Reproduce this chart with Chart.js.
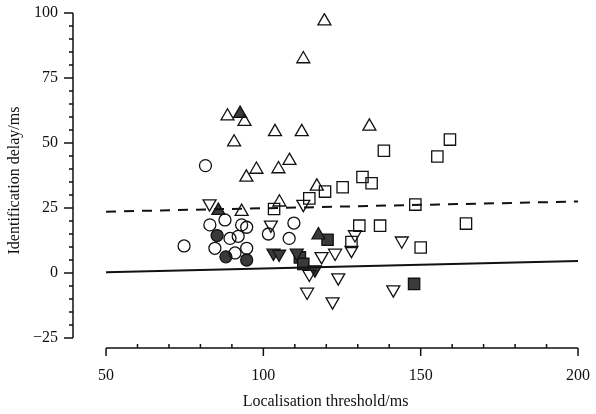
<!DOCTYPE html>
<html>
<head>
<meta charset="utf-8">
<script src="https://cdn.jsdelivr.net/npm/chart.js@4/dist/chart.umd.min.js"></script>
<style>
  html, body { margin: 0; padding: 0; background: #fff; }
  #wrap { width: 596px; height: 414px; }
</style>
</head>
<body>
<div id="wrap"><canvas id="chart" width="596" height="414"></canvas></div>
<script>
// tick labels
const xTicks = [50, 100, 150, 200];
const yTicks = [-25, 0, 25, 50, 75, 100];

// open circles
const openCircleX = [81.6, 74.8, 83.0, 87.8, 93.1, 94.7, 89.4, 92.0, 84.6, 91.0, 94.7, 101.6, 109.7, 108.2];
const openCircleY = [41.3, 10.4, 18.5, 20.4, 18.5, 17.6, 13.3, 14.1, 9.5, 7.7, 9.5, 15.0, 19.2, 13.3];
// filled circles
const filledCircleX = [85.3, 88.1, 94.7];
const filledCircleY = [14.4, 6.2, 5.0];

// open upward triangles
const openUpX = [88.6, 94.0, 90.7, 119.4, 112.7, 103.7, 112.2, 133.7, 97.8, 104.8, 108.3, 94.6, 117.0, 105.1, 93.1];
const openUpY = [60.3, 58.2, 50.3, 96.9, 82.3, 54.3, 54.3, 56.4, 39.8, 40.0, 43.2, 36.8, 33.3, 27.2, 23.6];
// filled upward triangles
const filledUpX = [92.6, 85.7, 117.5];
const filledUpY = [61.3, 24.0, 14.6];

// open downward triangles
const openDownX = [82.9, 102.4, 112.7, 129.1, 128.0, 144.0, 122.8, 118.5, 114.6, 123.8, 113.9, 122.0, 141.3];
const openDownY = [26.7, 18.5, 26.5, 14.8, 8.8, 12.4, 7.7, 6.4, -0.4, -1.8, -7.3, -11.0, -6.4];
// filled downward triangles
const filledDownX = [103.2, 105.0, 110.6, 116.4];
const filledDownY = [7.7, 7.3, 7.7, 1.3];

// open squares
const openSquareX = [138.3, 159.3, 155.3, 131.5, 134.4, 125.2, 119.6, 114.6, 103.4, 148.3, 130.5, 137.1, 164.4, 128.0, 150.0];
const openSquareY = [47.0, 51.3, 44.8, 36.9, 34.5, 33.0, 31.3, 28.7, 24.6, 26.3, 18.2, 18.2, 19.0, 11.9, 9.8];
// filled squares
const filledSquareX = [120.4, 111.6, 112.7, 147.9];
const filledSquareY = [12.8, 6.0, 3.5, -4.2];

// fitted lines
const fitX = [50, 200];
const solidFitY = [0.3, 4.6];
const dashedFitY = [23.6, 27.5];

const ink = '#111';
const fill = '#3a3a3a';

function pts(xs, ys) {
    return xs.map((x, i) => ({ x: x, y: ys[i] }));
}

function markerSet(xs, ys, style, filled, size, rotation) {
    return {
        type: 'scatter',
        data: pts(xs, ys),
        pointStyle: style,
        pointRadius: size,
        pointRotation: rotation || 0,
        pointBorderWidth: 1.3,
        pointBorderColor: ink,
        pointBackgroundColor: filled ? fill : 'rgba(0,0,0,0)',
        showLine: false
    };
}

function fitLine(ys, dash) {
    return {
        type: 'line',
        data: pts(fitX, ys),
        borderColor: ink,
        borderWidth: 2,
        borderDash: dash,
        pointRadius: 0,
        fill: false
    };
}

// axis lines and ticks, offset from each other like the original plot
const axesPlugin = {
    id: 'offsetAxes',
    afterDraw(chart) {
        const ctx = chart.ctx;
        const xs = chart.scales.x;
        const ys = chart.scales.y;
        const area = chart.chartArea;
        ctx.save();
        ctx.strokeStyle = ink;
        ctx.lineWidth = 1.5;

        // y axis
        const yx = area.left;
        ctx.beginPath();
        ctx.moveTo(yx, ys.getPixelForValue(-25));
        ctx.lineTo(yx, ys.getPixelForValue(100));
        for (let v = -25; v <= 100; v += 5) {
            const py = ys.getPixelForValue(v);
            const len = v % 25 === 0 ? 9 : 4;
            ctx.moveTo(yx, py);
            ctx.lineTo(yx - len, py);
        }
        ctx.stroke();

        // x axis
        const xy = area.bottom;
        ctx.beginPath();
        ctx.moveTo(xs.getPixelForValue(50), xy);
        ctx.lineTo(xs.getPixelForValue(200), xy);
        for (let v = 50; v <= 200; v += 10) {
            const px = xs.getPixelForValue(v);
            ctx.moveTo(px, xy);
            if (v % 50 === 0) ctx.lineTo(px, xy + 8);
            else ctx.lineTo(px, xy - 4);
        }
        ctx.stroke();
        ctx.restore();
    }
};

const serif = { family: '"Liberation Serif", "DejaVu Serif", serif', size: 16 };

new Chart(document.getElementById('chart'), {
    data: {
        datasets: [
            fitLine(solidFitY, []),
            fitLine(dashedFitY, [10, 8]),
            markerSet(openCircleX, openCircleY, 'circle', false, 6),
            markerSet(filledCircleX, filledCircleY, 'circle', true, 6),
            markerSet(openUpX, openUpY, 'triangle', false, 7.5),
            markerSet(filledUpX, filledUpY, 'triangle', true, 7.5),
            markerSet(openDownX, openDownY, 'triangle', false, 7.5, 180),
            markerSet(filledDownX, filledDownY, 'triangle', true, 7.5, 180),
            markerSet(openSquareX, openSquareY, 'rect', false, 8),
            markerSet(filledSquareX, filledSquareY, 'rect', true, 8)
        ]
    },
    options: {
        responsive: false,
        animation: false,
        devicePixelRatio: 1,
        layout: { padding: { top: 13, right: 18, bottom: 0, left: 0 } },
        plugins: { legend: { display: false }, tooltip: { enabled: false } },
        scales: {
            x: {
                type: 'linear',
                min: 39.5,
                max: 200,
                afterBuildTicks: s => { s.ticks = xTicks.map(v => ({ value: v })); },
                afterFit: s => { s.height = 66; s.paddingLeft = 0; s.paddingRight = 0; },
                grid: { display: false, drawTicks: false },
                border: { display: false },
                ticks: { color: ink, font: serif, padding: 18, maxRotation: 0 },
                title: { display: true, text: 'Localisation threshold/ms', color: ink, font: serif, padding: { top: 0, bottom: 3 } }
            },
            y: {
                type: 'linear',
                min: -28.85,
                max: 100,
                afterBuildTicks: s => { s.ticks = yTicks.map(v => ({ value: v })); },
                afterFit: s => { s.width = 73; s.paddingTop = 0; s.paddingBottom = 0; },
                grid: { display: false, drawTicks: false },
                border: { display: false },
                ticks: {
                    color: ink, font: serif, padding: 15,
                    callback: v => v < 0 ? '\u2212' + Math.abs(v) : String(v)
                },
                title: { display: true, text: 'Identification delay/ms', color: ink, font: serif, padding: { top: 5, bottom: 0 } }
            }
        }
    },
    plugins: [axesPlugin]
});
</script>
</body>
</html>
